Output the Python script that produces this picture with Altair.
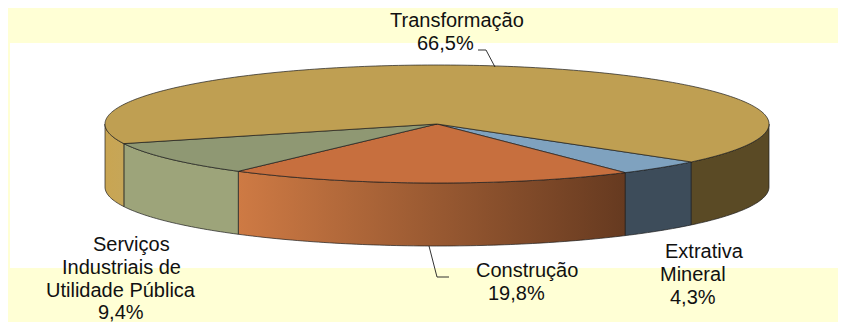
import math
import altair as alt
import pandas as pd

# Chart values
categories = ["Extrativa Mineral", "Construção", "Serviços Industriais de Utilidade Pública", "Transformação"]
shares = [4.3, 19.8, 9.4, 66.5]
top_colors = ["#7FA2BF", "#C76F3E", "#8F9873", "#BF9F52"]
label_lines = [
    ("Transformação", 390, 27), ("66,5%", 417, 50),
    ("Serviços", 93, 251), ("Industriais de", 62, 274), ("Utilidade Pública", 46, 297), ("9,4%", 98, 319),
    ("Construção", 476, 277), ("19,8%", 488, 300),
    ("Extrativa", 665, 258), ("Mineral", 660, 281), ("4,3%", 670, 304),
]

# Layout of the drawing
W, H = 830, 314
M = 8
CX, CY, RX, RY = 437, 124, 332, 59
DEPTH = 63 / RY
START = 40.0
BG = "#FFFFD5"


def gradient(c1, c2):
    return alt.Gradient(gradient="linear", x1=0, x2=1, y1=0, y2=0,
                        stops=[alt.GradientStop(offset=0, color=c1), alt.GradientStop(offset=1, color=c2)])


x_scale = alt.Scale(domain=[(M - CX) / RX, (M + W - CX) / RX], range=[0, W], nice=False, zero=False)
y_scale = alt.Scale(domain=[(CY - M - H) / RY, (CY - M) / RY], range=[H, 0], nice=False, zero=False)


def arc(a, b, drop=0.0, step=1.0):
    n = max(2, int(abs(b - a) / step) + 1)
    pts = []
    for i in range(n + 1):
        t = math.radians(a + (b - a) * i / n)
        pts.append((math.cos(t), -math.sin(t) - drop))
    return pts


def shape(pts, fill, stroke="#1c1c1c", sw=0.7):
    df = pd.DataFrame(pts, columns=["x", "y"])
    df["i"] = range(len(df))
    return alt.Chart(df).mark_line(fill=fill, stroke=stroke, strokeWidth=sw, interpolate="linear-closed",
                                   strokeJoin="round").encode(
        x=alt.X("x:Q", scale=x_scale, axis=None),
        y=alt.Y("y:Q", scale=y_scale, axis=None),
        order="i:Q",
    )


def rule(x1, y1, x2, y2):
    return alt.Chart(pd.DataFrame({"a": [0]})).mark_rule(color="#1c1c1c", strokeWidth=0.9).encode(
        x=alt.value(x1 - M), x2=alt.value(x2 - M), y=alt.value(y1 - M), y2=alt.value(y2 - M))


angles = [START]
for s in shares:
    angles.append(angles[-1] + s * 3.6)

wall_fills = [
    "#3D4C5A",
    gradient("#CE7A44", "#663A20"),
    gradient("#9DA47A", "#9DA47A"),
]

layers = [
    alt.Chart(pd.DataFrame({"a": [0]})).mark_rect(color="#FFFFFF").encode(
        x=alt.value(10 - M), x2=alt.value(W), y=alt.value(43 - M), y2=alt.value(268 - M))
]

# Side walls of the front half
for i in range(3):
    a, b = angles[i], angles[i + 1]
    layers.append(shape(arc(a, b) + arc(b, a, DEPTH), wall_fills[i]))
a = angles[3]
layers.append(shape(arc(a, 180) + arc(180, a, DEPTH), gradient("#C9A552", "#C6A658")))
layers.append(shape(arc(0, START) + arc(START, 0, DEPTH), "#5A4A25"))

# Top faces
for i in range(4):
    a, b = angles[i], angles[i + 1]
    layers.append(shape([(0, 0)] + arc(a, b), top_colors[i]))

# Leader lines
layers += [rule(478, 50, 486, 50), rule(486, 50, 495, 67), rule(449, 277, 437, 277), rule(437, 277, 429, 246)]

# Labels
for text, px, py in label_lines:
    layers.append(
        alt.Chart(pd.DataFrame({"t": [text]})).mark_text(
            font="Liberation Sans", fontSize=20, align="left", baseline="alphabetic", color="#111111"
        ).encode(text="t:N", x=alt.value(px - M), y=alt.value(py - M))
    )

chart = alt.layer(*layers).resolve_scale(x="shared", y="shared").properties(
    width=W, height=H, padding=0, background=BG
).configure_view(stroke=None)

chart.save("out.html", embed_options={"renderer": "svg", "actions": False})
